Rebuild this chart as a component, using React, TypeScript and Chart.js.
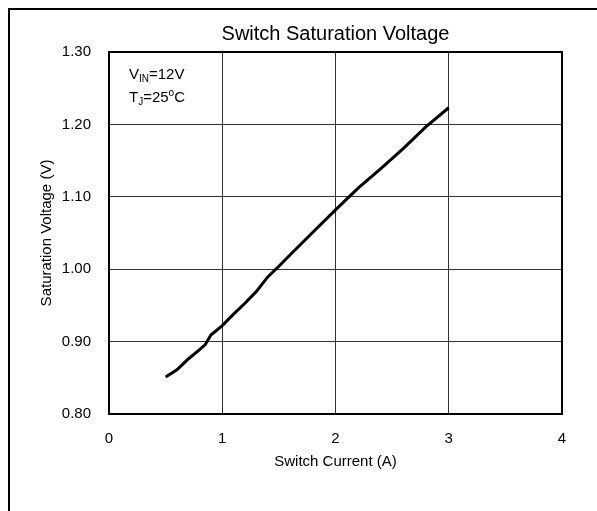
import React, { useEffect, useRef } from "react";
import { Chart, registerables } from "chart.js";

Chart.register(...registerables);

const TITLE = "Switch Saturation Voltage";
const X_TITLE = "Switch Current (A)";
const Y_TITLE = "Saturation Voltage (V)";

const currentA = [0.5, 0.6, 0.7, 0.8, 0.85, 0.9, 1.0, 1.1, 1.2, 1.3, 1.4, 1.5, 1.6, 1.8, 2.0, 2.2, 2.4, 2.6, 2.8, 3.0];
const satVoltage = [0.851, 0.861, 0.876, 0.889, 0.896, 0.909, 0.922, 0.938, 0.953, 0.969, 0.989, 1.004, 1.02, 1.051, 1.082, 1.112, 1.139, 1.167, 1.197, 1.223];

const FONT = "Arial, 'Liberation Sans', sans-serif";

const decorPlugin = {
  id: "decor",
  afterDraw(chart: any) {
    const { ctx, chartArea } = chart;
    ctx.save();
    ctx.strokeStyle = "#000";
    ctx.lineWidth = 2;
    ctx.beginPath();
    ctx.moveTo(9, 511);
    ctx.lineTo(9, 9);
    ctx.lineTo(597, 9);
    ctx.stroke();
    ctx.lineWidth = 2;
    ctx.strokeRect(chartArea.left, chartArea.top, chartArea.right - chartArea.left, chartArea.bottom - chartArea.top);
    ctx.fillStyle = "#000";
    ctx.font = `20px ${FONT}`;
    ctx.textAlign = "center";
    ctx.textBaseline = "alphabetic";
    ctx.fillText(TITLE, (chartArea.left + chartArea.right) / 2, 40);
    ctx.textAlign = "left";
    let x = 129;
    let y = 79;
    ctx.font = `15px ${FONT}`;
    ctx.fillText("V", x, y);
    x += ctx.measureText("V").width;
    ctx.font = `10px ${FONT}`;
    ctx.fillText("IN", x, y + 3);
    x += ctx.measureText("IN").width;
    ctx.font = `15px ${FONT}`;
    ctx.fillText("=12V", x, y);

    x = 129;
    y = 102;
    ctx.fillText("T", x, y);
    x += ctx.measureText("T").width;
    ctx.font = `10px ${FONT}`;
    ctx.fillText("J", x, y + 3);
    x += ctx.measureText("J").width;
    ctx.font = `15px ${FONT}`;
    ctx.fillText("=25", x, y);
    x += ctx.measureText("=25").width;
    ctx.font = `10px ${FONT}`;
    ctx.fillText("o", x, y - 6);
    x += ctx.measureText("o").width;
    ctx.font = `15px ${FONT}`;
    ctx.fillText("C", x, y);
    ctx.restore();
  },
};

export default function App() {
  const ref = useRef<HTMLCanvasElement>(null);
  useEffect(() => {
    if (!ref.current) return;
    Chart.defaults.font.family = FONT;
    const chart = new Chart(ref.current, {
      type: "line",
      data: {
        datasets: [
          {
            data: currentA.map((c, i) => ({ x: c, y: satVoltage[i] })),
            borderColor: "#000",
            borderWidth: 3,
            pointRadius: 0,
            tension: 0,
            fill: false,
          },
        ],
      },
      options: {
        animation: false,
        responsive: false,
        maintainAspectRatio: false,
        layout: { padding: { top: 52, right: 35, bottom: 0, left: 0 } },
        plugins: { legend: { display: false }, tooltip: { enabled: false }, title: { display: false } },
        scales: {
          x: {
            type: "linear",
            min: 0,
            max: 4,
            ticks: { stepSize: 1, color: "#000", font: { size: 15 }, padding: 16 },
            grid: { color: "#333", lineWidth: 1, drawTicks: false },
            border: { color: "#000", width: 2 },
            title: { display: true, text: X_TITLE, color: "#000", font: { size: 15 }, padding: { top: 0, bottom: 40 } },
            afterFit: (s: any) => {
              s.height = 97;
            },
          },
          y: {
            type: "linear",
            min: 0.8,
            max: 1.3,
            ticks: { stepSize: 0.1, color: "#000", font: { size: 15 }, padding: 18, callback: (v: any) => Number(v).toFixed(2) },
            grid: { color: "#333", lineWidth: 1, drawTicks: false },
            border: { color: "#000", width: 2 },
            title: { display: true, text: Y_TITLE, color: "#000", font: { size: 15 }, padding: { top: 38, bottom: 0 } },
            afterFit: (s: any) => {
              s.width = 109;
            },
          },
        },
      },
      plugins: [decorPlugin],
    });
    return () => chart.destroy();
  }, []);
  return (
    <div style={{ position: "fixed", left: 0, top: 0, width: 597, height: 511, background: "#fff" }}>
      <canvas ref={ref} width={597} height={511} style={{ width: 597, height: 511, display: "block" }} />
    </div>
  );
}
